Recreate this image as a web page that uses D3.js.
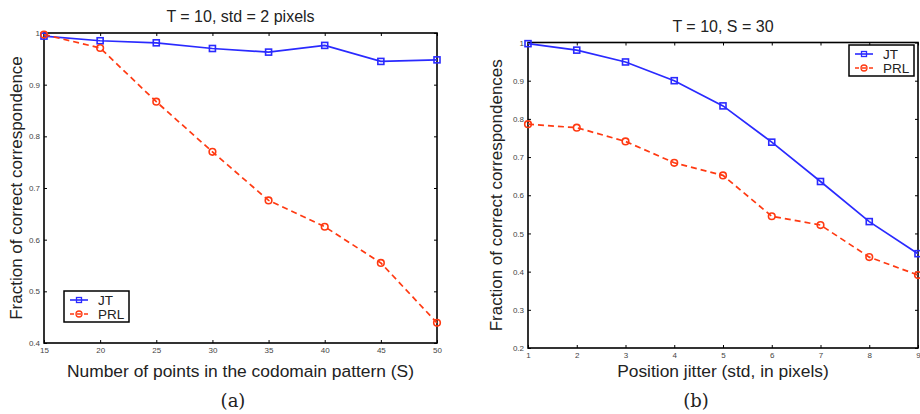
<!DOCTYPE html>
<html><head><meta charset="utf-8">
<script src="https://cdn.jsdelivr.net/npm/d3@7"></script>
<style>body{margin:0;background:#fff}svg{display:block}</style>
</head><body>
<svg id="c" width="920" height="414"></svg>
<script>
// ---- data ----
const leftX = [15, 20, 25, 30, 35, 40, 45, 50];
const leftJT = [0.994, 0.985, 0.981, 0.970, 0.963, 0.976, 0.945, 0.948];
const leftPRL = [0.997, 0.971, 0.867, 0.770, 0.676, 0.625, 0.555, 0.439];
const leftXTicks = [15, 20, 25, 30, 35, 40, 45, 50];
const leftYTicks = [0.4, 0.5, 0.6, 0.7, 0.8, 0.9, 1.0];

const rightX = [1, 2, 3, 4, 5, 6, 7, 8, 9];
const rightJT = [0.997, 0.980, 0.949, 0.900, 0.834, 0.739, 0.636, 0.531, 0.447];
const rightPRL = [0.786, 0.777, 0.741, 0.685, 0.652, 0.545, 0.522, 0.438, 0.391];
const rightXTicks = [1, 2, 3, 4, 5, 6, 7, 8, 9];
const rightYTicks = [0.2, 0.3, 0.4, 0.5, 0.6, 0.7, 0.8, 0.9, 1.0];

const seriesNames = ["JT", "PRL"];
const BLUE = "#2a2aff", RED = "#ff3a12";
const svg = d3.select("#c");
const SANS = "'Liberation Sans', Arial, sans-serif";

function panel(o) {
  const x = d3.scaleLinear().domain(o.xDomain).range([o.x0, o.x1]);
  const y = d3.scaleLinear().domain(o.yDomain).range([o.y1, o.y0]);
  const g = svg.append("g");
  const fmt = v => (v === 1 ? "1" : d3.format(".1f")(v));
  const ax = [
    [d3.axisBottom(x).tickValues(o.xTicks).tickSize(-3).tickFormat(d => d), `translate(0,${o.y1})`],
    [d3.axisTop(x).tickValues(o.xTicks).tickSize(-3).tickFormat(""), `translate(0,${o.y0})`],
    [d3.axisLeft(y).tickValues(o.yTicks).tickSize(-3).tickFormat(fmt), `translate(${o.x0},0)`],
    [d3.axisRight(y).tickValues(o.yTicks).tickSize(-3).tickFormat(""), `translate(${o.x1},0)`]
  ];
  ax.forEach(([a, t]) => {
    const gg = g.append("g").attr("transform", t).call(a.tickPadding(4));
    gg.select(".domain").remove();
    gg.selectAll(".tick line").attr("stroke", "#000").attr("stroke-width", 1);
    gg.selectAll(".tick text").attr("font-family", SANS).attr("font-size", 8).attr("fill", "#444");
  });
  g.append("rect").attr("x", o.x0).attr("y", o.y0).attr("width", o.x1 - o.x0).attr("height", o.y1 - o.y0)
    .attr("fill", "none").attr("stroke", "#000").attr("stroke-width", 1.6);

  const line = d3.line().x(d => x(d[0])).y(d => y(d[1]));
  const jt = o.xs.map((v, i) => [v, o.jt[i]]);
  const prl = o.xs.map((v, i) => [v, o.prl[i]]);
  g.append("path").datum(jt).attr("d", line).attr("fill", "none").attr("stroke", BLUE).attr("stroke-width", 1.7);
  g.append("path").datum(prl).attr("d", line).attr("fill", "none").attr("stroke", RED).attr("stroke-width", 1.7).attr("stroke-dasharray", "6,4");
  g.selectAll(".sq").data(jt).enter().append("rect")
    .attr("x", d => x(d[0]) - 3).attr("y", d => y(d[1]) - 3).attr("width", 6).attr("height", 6)
    .attr("fill", "none").attr("stroke", BLUE).attr("stroke-width", 1.6);
  g.selectAll(".ci").data(prl).enter().append("circle")
    .attr("cx", d => x(d[0])).attr("cy", d => y(d[1])).attr("r", 3.3)
    .attr("fill", "none").attr("stroke", RED).attr("stroke-width", 1.6);

  g.append("text").attr("x", (o.x0 + o.x1) / 2).attr("y", o.titleY).attr("text-anchor", "middle")
    .attr("font-family", SANS).attr("font-size", 16).attr("fill", "#222").text(o.title);
  g.append("text").attr("x", (o.x0 + o.x1) / 2).attr("y", 377).attr("text-anchor", "middle")
    .attr("font-family", SANS).attr("font-size", 17.4).attr("fill", "#222").text(o.xLabel);
  g.append("text").attr("transform", `translate(${o.yLabelX},${(o.y0 + o.y1) / 2}) rotate(-90)`).attr("text-anchor", "middle")
    .attr("font-family", SANS).attr("font-size", 17).attr("fill", "#222").text(o.yLabel);
  g.append("text").attr("x", o.capX).attr("y", 407).attr("text-anchor", "middle")
    .attr("font-family", "'DejaVu Serif', 'Liberation Serif', serif").attr("font-size", 18).attr("fill", "#222").text(o.cap);

  const L = o.legend;
  const lg = g.append("g").attr("transform", `translate(${L[0]},${L[1]})`);
  lg.append("rect").attr("width", 65).attr("height", 31).attr("fill", "#fff").attr("stroke", "#000").attr("stroke-width", 1.5);
  seriesNames.forEach((n, i) => {
    const yy = 9 + i * 14;
    const col = i === 0 ? BLUE : RED;
    lg.append("line").attr("x1", 6).attr("x2", 24).attr("y1", yy).attr("y2", yy).attr("stroke", col).attr("stroke-width", 1.6)
      .attr("stroke-dasharray", i === 0 ? null : "4,3");
    if (i === 0) lg.append("rect").attr("x", 12.5).attr("y", yy - 2.5).attr("width", 5).attr("height", 5).attr("fill", "none").attr("stroke", col).attr("stroke-width", 1.3);
    else lg.append("circle").attr("cx", 15).attr("cy", yy).attr("r", 3).attr("fill", "none").attr("stroke", col).attr("stroke-width", 1.3);
    lg.append("text").attr("x", 34).attr("y", yy + 5).attr("font-family", SANS).attr("font-size", 13.5).attr("fill", "#222").text(n);
  });
}

panel({
  x0: 44, x1: 437, y0: 33, y1: 343, xDomain: [15, 50], yDomain: [0.4, 1.0],
  xs: leftX, jt: leftJT, prl: leftPRL, xTicks: leftXTicks, yTicks: leftYTicks,
  title: "T = 10, std = 2 pixels", titleY: 22,
  xLabel: "Number of points in the codomain pattern (S)",
  yLabel: "Fraction of correct correspondence", yLabelX: 22,
  cap: "(a)", capX: 233, legend: [64, 291]
});
panel({
  x0: 528, x1: 918, y0: 42.5, y1: 348, xDomain: [1, 9], yDomain: [0.2, 1.0],
  xs: rightX, jt: rightJT, prl: rightPRL, xTicks: rightXTicks, yTicks: rightYTicks,
  title: "T = 10, S = 30", titleY: 32,
  xLabel: "Position jitter (std, in pixels)",
  yLabel: "Fraction of correct correspondences", yLabelX: 502,
  cap: "(b)", capX: 696, legend: [849, 45]
});
</script>
</body></html>
